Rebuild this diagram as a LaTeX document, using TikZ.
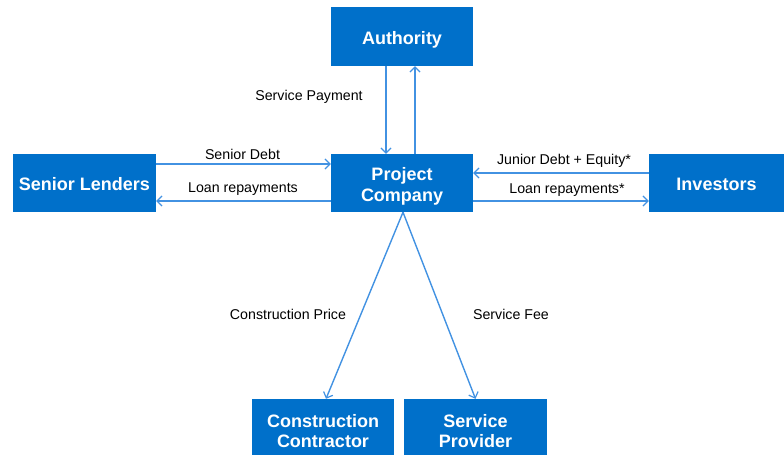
\documentclass[tikz,border=0pt]{standalone}
\usepackage{fontspec}
\setmainfont{Liberation Sans}
\usetikzlibrary{arrows.meta}
\definecolor{boxblue}{RGB}{0,112,202}
\definecolor{arrblue}{RGB}{66,146,226}
\newcommand\bxtext[2][3.5pt]{\raisebox{-#1}[\height][\depth]{\begin{tabular}{@{}c@{}}#2\end{tabular}}}
\tikzset{
  box/.style={rectangle, fill=boxblue, draw=none, inner sep=0pt,
    text=white, font=\fontsize{18}{21}\selectfont\bfseries, align=center},
  arr/.style={draw=arrblue, line width=1.4pt,
    -{Straight Barb[length=5pt,width=10pt,line width=1.2pt]}},
  lbl/.style={font=\fontsize{14.2}{16}\selectfont, text=black, inner sep=0pt}
}
\begin{document}
\begin{tikzpicture}[x=1pt,y=-1pt]
\useasboundingbox (0,0) rectangle (784,455);
% boxes
\node[box, minimum width=142, minimum height=59] (auth) at (402,36.5) {\bxtext{Authority}};
\node[box, minimum width=142, minimum height=58] (pc) at (402,183) {\bxtext{Project\\Company}};
\node[box, minimum width=143, minimum height=58] (sl) at (84.5,183) {\bxtext{Senior Lenders}};
\node[box, minimum width=135, minimum height=58] (inv) at (716.5,183) {\bxtext{Investors}};
\node[box, minimum width=142, minimum height=56] (cc) at (323,427)
  {\bxtext[6.5pt]{Construction\\[-1pt]Contractor}};
\node[box, minimum width=143, minimum height=56] (sp) at (475.5,427)
  {\bxtext[6.5pt]{Service\\[-1pt]Provider}};
% connectors
\draw[arr] ([xshift=-16pt]auth.south) -- ([xshift=-16pt]pc.north);
\draw[arr] ([xshift=13pt]pc.north) -- ([xshift=13pt]auth.south);
\draw[arr] ([yshift=19pt]sl.east) -- ([yshift=19pt]pc.west);
\draw[arr] ([yshift=-18pt]pc.west) -- ([yshift=-18pt]sl.east);
\draw[arr] ([yshift=10pt]inv.west) -- ([yshift=10pt]pc.east);
\draw[arr] ([yshift=-18pt]pc.east) -- ([yshift=-18pt]inv.west);
\coordinate (apex) at ([xshift=1pt]pc.south);
\draw[arr] (apex) -- ([xshift=3pt]cc.north);
\draw[arr] (apex) -- (sp.north);
% labels
\node[lbl] (l1) at (309,97) {Service Payment};
\node[lbl] (l2) at (242.5,154) {Senior Debt};
\node[lbl] (l3) at (243,189.5) {Loan repayments};
\node[lbl] (l4) at (564,160.5) {Junior Debt + Equity*};
\node[lbl] (l5) at (567,190) {Loan repayments*};
\node[lbl] (l6) at (288,314) {Construction Price};
\node[lbl] (l7) at (511,314) {Service Fee};
\end{tikzpicture}
\end{document}
